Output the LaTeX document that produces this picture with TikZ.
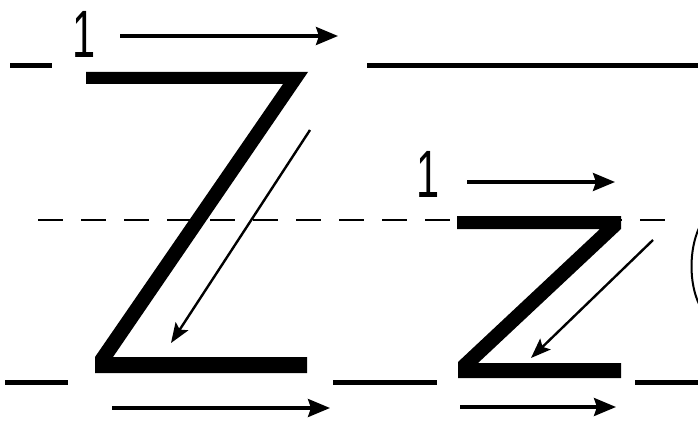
\documentclass[tikz,border=0pt]{standalone}
\usepackage{fontspec}
\setmainfont{Liberation Sans}
\usetikzlibrary{arrows.meta}
\tikzset{
  guide/.style={line width=5pt, line cap=butt},
  midline/.style={line width=2.8pt, dash pattern=on 25pt off 18pt},
  letter/.style={fill=black, draw=none},
  hdir/.style={line width=3.2pt, -{Stealth[length=22pt,width=18pt,inset=3pt]}},
  ddir/.style={line width=2.4pt, -{Stealth[length=20pt,width=15pt,inset=4pt]}},
  numlabel/.style={font=\fontsize{67}{67}\selectfont, inner sep=0pt, anchor=base, xscale=0.62}
}
\begin{document}
\begin{tikzpicture}[x=1pt,y=-1pt]
\useasboundingbox (0,0) rectangle (698,425);
\fill[white] (0,0) rectangle (698,425);

% guide lines
\coordinate (t1a) at (10,66);  \coordinate (t1b) at (52,66);
\coordinate (t2a) at (367,66); \coordinate (t2b) at (698,66);
\coordinate (b1a) at (5,382);  \coordinate (b1b) at (68,382);
\coordinate (b2a) at (333,382);\coordinate (b2b) at (437,382);
\coordinate (b3a) at (635,382);\coordinate (b3b) at (698,382);
\coordinate (ma) at (38,220);  \coordinate (mb) at (680,220);
\draw[guide] (t1a) -- (t1b);
\draw[guide] (t2a) -- (t2b);
\draw[guide] (b1a) -- (b1b);
\draw[guide] (b2a) -- (b2b);
\draw[guide] (b3a) -- (b3b);
\draw[midline] (ma) -- (mb);

% big Z
\fill[letter] (86,72) -- (308,72) -- (113,357) -- (307,357) -- (307,373)
  -- (95,373) -- (95,357) -- (283,84) -- (86,84) -- cycle;

% small z
\fill[letter] (457,216) -- (621,216) -- (621,229) -- (478,363) -- (621,363)
  -- (621,378) -- (458,378) -- (458,362) -- (600,229) -- (457,229) -- cycle;

% stroke numbers
\node[numlabel] (n1) at (84,58) {1};
\node[numlabel] (n2) at (428,197) {1};

% direction arrows
\coordinate (a1s) at (120,36);  \coordinate (a1e) at (338,36);
\coordinate (a2s) at (467,182); \coordinate (a2e) at (615,182);
\coordinate (a3s) at (112,408); \coordinate (a3e) at (330,408);
\coordinate (a4s) at (460,407); \coordinate (a4e) at (616,407);
\coordinate (d1s) at (310,130); \coordinate (d1e) at (171,343);
\coordinate (d2s) at (653,240); \coordinate (d2e) at (531,358);
\draw[hdir] (a1s) -- (a1e);
\draw[hdir] (a2s) -- (a2e);
\draw[hdir] (a3s) -- (a3e);
\draw[hdir] (a4s) -- (a4e);
\draw[ddir] (d1s) -- (d1e);
\draw[ddir] (d2s) -- (d2e);

% partial next letter at right edge
\coordinate (ra) at (699,228);
\coordinate (rb) at (699,304);
\draw[line width=2pt] (ra) .. controls (689,250) and (689,283) .. (rb);
\end{tikzpicture}
\end{document}
